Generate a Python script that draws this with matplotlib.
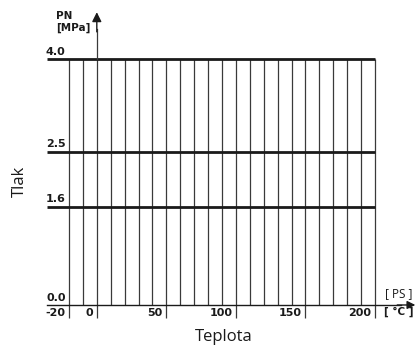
import matplotlib.pyplot as plt

plt.rcParams['font.family'] = ['Open Sans', 'DejaVu Sans']

# grid of temperatures (vertical lines) and labelled values
grid_temps = [-20, -10, 0, 10, 20, 30, 40, 50, 60, 70, 80, 90, 100,
              110, 120, 130, 140, 150, 160, 170, 180, 190, 200]
temp_labels = [-20, 0, 50, 100, 150, 200]
pressure_lines = [1.6, 2.5, 4.0]
pressure_labels = [0.0, 1.6, 2.5, 4.0]

fig = plt.figure(figsize=(4.17, 3.45), dpi=100)
ax = fig.add_axes([0, 0, 1, 1])
ax.set_xlim(-69.6, 230.2)
ax.set_ylim(-0.652, 4.969)
ax.axis('off')

line_col = '#3a3a3a'
ink = '#1a1a1a'
bold_font = ['DejaVu Sans']
tmax = grid_temps[-1]

# vertical grid lines
for t in grid_temps:
    y0 = -0.21 if t in temp_labels else 0
    ax.plot([t, t], [y0, max(pressure_lines)], color=line_col, lw=0.9,
            solid_capstyle='butt', zorder=1)

# horizontal pressure lines
for p in pressure_lines:
    ax.plot([-36, tmax], [p, p], color=ink, lw=2.0,
            solid_capstyle='butt', zorder=2)

# x axis with arrow
ax.plot([-36, 219], [0, 0], color=ink, lw=1.0, zorder=2)
ax.annotate('', xy=(229, 0), xytext=(216, 0),
            arrowprops=dict(arrowstyle='-|>', color=ink, lw=1.0,
                            mutation_scale=12, shrinkA=0, shrinkB=0))

# y axis with arrow at 0 degC
ax.plot([0, 0], [4.0, 4.5], color=line_col, lw=0.9, zorder=2)
ax.annotate('', xy=(0, 4.77), xytext=(0, 4.45),
            arrowprops=dict(arrowstyle='-|>', color=ink, lw=1.0,
                            mutation_scale=14, shrinkA=0, shrinkB=0))

# pressure labels
for p in pressure_labels:
    ax.text(-22.5, p + 0.04, f'{p:.1f}', ha='right', va='bottom',
            fontsize=8, fontweight='bold', color=ink, family=bold_font)

# temperature labels
for t in temp_labels:
    ax.text(t - 2.5, -0.05, f'{t}', ha='right', va='top',
            fontsize=8, fontweight='bold', color=ink, family=bold_font)

# axis titles
ax.text(-29.5, 4.61, 'PN\n[MPa]', ha='left', va='center', fontsize=7.5,
        fontweight='bold', color=ink, linespacing=1.15, family=bold_font,
        multialignment='left')
ax.text(217, 0.18, '[ PS ]', ha='center', va='center', fontsize=8.5,
        color=ink)
ax.text(217, -0.11, '[ °C ]', ha='center', va='center', fontsize=7.5,
        fontweight='bold', color=ink, family=bold_font)
ax.text(-55, 2.02, 'Tlak', ha='center', va='center', rotation=90,
        fontsize=12, color=ink)
ax.text(91, -0.52, 'Teplota', ha='center', va='center',
        fontsize=12, color=ink)

fig.savefig('out.png', dpi=100)
